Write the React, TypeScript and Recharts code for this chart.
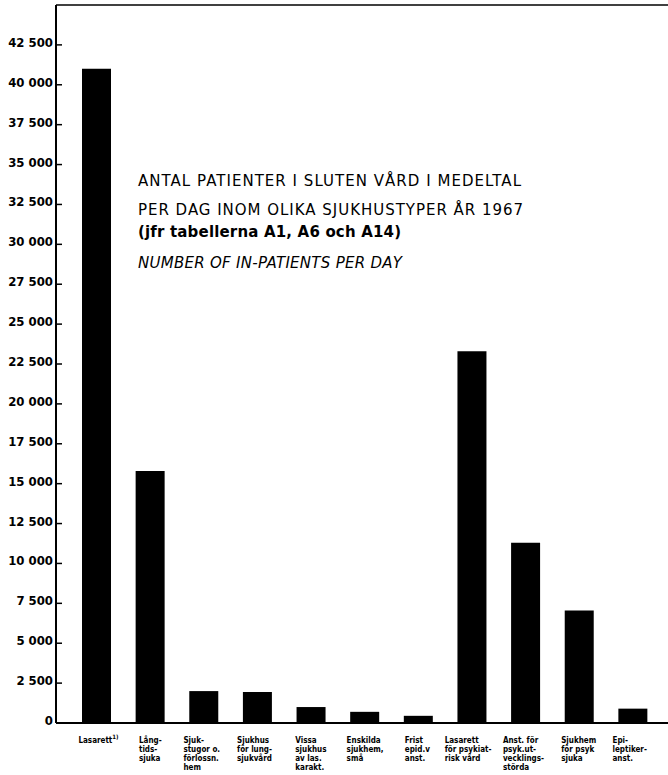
import React from 'react';
import { BarChart, Bar, XAxis, YAxis, ReferenceLine, Customized } from 'recharts';

// hospital types, label lines as printed under each bar
const categories: string[][] = [
  ['Lasarett'],
  ['Lång-', 'tids-', 'sjuka'],
  ['Sjuk-', 'stugor o.', 'förlossn.', 'hem'],
  ['Sjukhus', 'för lung-', 'sjukvård'],
  ['Vissa', 'sjukhus', 'av las.', 'karakt.'],
  ['Enskilda', 'sjukhem,', 'små'],
  ['Frist', 'epid.v', 'anst.'],
  ['Lasarett', 'för psykiat-', 'risk vård'],
  ['Anst. för', 'psyk.ut-', 'vecklings-', 'störda'],
  ['Sjukhem', 'för psyk', 'sjuka'],
  ['Epi-', 'leptiker-', 'anst.'],
];

// patients per day, 1967
const patients = [41000, 15800, 2000, 1950, 1000, 700, 450, 23300, 11300, 7050, 900];

const yTicks = [0, 2500, 5000, 7500, 10000, 12500, 15000, 17500, 20000, 22500, 25000, 27500, 30000, 32500, 35000, 37500, 40000, 42500];

const titleLines = [
  'ANTAL PATIENTER I SLUTEN VÅRD I MEDELTAL',
  'PER DAG INOM OLIKA SJUKHUSTYPER ÅR 1967',
  '(jfr tabellerna A1, A6 och A14)',
  'NUMBER OF IN-PATIENTS PER DAY',
];

const data = categories.map((c, i) => ({ key: String(i), value: patients[i] }));

const fmt = (v: number) =>
  v >= 1000 ? `${Math.floor(v / 1000)} ${String(v % 1000).padStart(3, '0')}` : String(v);

const FONT = '"DejaVu Sans Condensed", "DejaVu Sans", sans-serif';

const YTick = ({ x, y, payload }: any) => (
  <g>
    <line x1={x + 3} x2={x + 9} y1={y} y2={y} stroke="#000" strokeWidth={1.5} />
    <text x={x} y={y + 2} textAnchor="end" fontSize={13} fontWeight="bold" fontFamily={FONT} fill="#000">
      {fmt(payload.value)}
    </text>
  </g>
);

const XTick = ({ x, y, payload }: any) => {
  const lines = categories[Number(payload.value)];
  const longest = Math.max(...lines.map((l) => l.length));
  const left = x - (longest * 4.6) / 2;
  return (
    <g>
      {lines.map((l, i) => (
        <text key={i} x={left} y={y + 20 + i * 9} fontSize={8} fontWeight="bold" fontFamily={FONT} fill="#000">
          {l}
          {Number(payload.value) === 0 && i === 0 ? (
            <tspan fontSize={6} dy={-4}>1)</tspan>
          ) : null}
        </text>
      ))}
    </g>
  );
};

const Title = () => (
  <g fontFamily='"DejaVu Sans", sans-serif' fill="#000" fontSize={15}>
    <text x={138} y={186} textLength={383} lengthAdjust="spacing">{titleLines[0]}</text>
    <text x={138} y={215} textLength={385} lengthAdjust="spacing">{titleLines[1]}</text>
    <text x={138} y={237} fontWeight="bold" textLength={263} lengthAdjust="spacing">{titleLines[2]}</text>
    <text x={138} y={268} fontStyle="italic" textLength={264} lengthAdjust="spacing">{titleLines[3]}</text>
  </g>
);

const App: React.FC = () => (
  <div style={{ position: 'absolute', left: 0, top: 0, background: '#fff' }}>
    <BarChart width={668} height={775} data={data} margin={{ top: 5, right: 0, bottom: 0, left: 0 }}>
      <XAxis
        dataKey="key"
        height={52}
        padding={{ left: 14, right: 8 }}
        tickLine={false}
        tickSize={0}
        tickMargin={0}
        axisLine={{ stroke: '#000', strokeWidth: 2 }}
        tick={<XTick />}
        interval={0}
      />
      <YAxis
        width={56}
        domain={[0, 45000]}
        ticks={yTicks}
        tickLine={false}
        tickSize={0}
        tickMargin={3}
        axisLine={{ stroke: '#000', strokeWidth: 2 }}
        tick={<YTick />}
        interval={0}
      />
      <ReferenceLine y={45000} stroke="#000" strokeWidth={1.5} />
      <Bar dataKey="value" fill="#000" barSize={29} isAnimationActive={false} />
      <Customized component={Title} />
    </BarChart>
  </div>
);

export default App;
